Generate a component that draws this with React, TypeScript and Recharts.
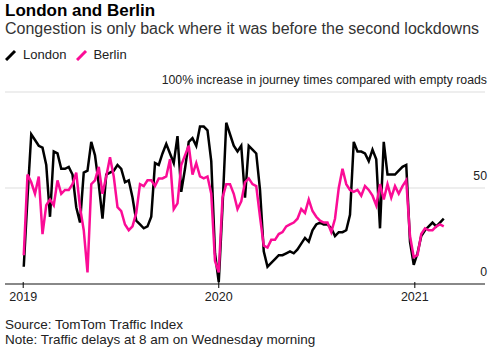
import { LineChart, Line, XAxis, YAxis, CartesianGrid, ReferenceLine } from "recharts";

// weekly readings, Wednesday 8am, starting 2 Jan 2019
const firstWeek = Date.UTC(2019, 0, 2);
const DAY = 86400000;

const london = [
  9, 45, 78, 75, 72, 71, 62, 35, 69, 68, 60, 60, 61, 57, 40, 32, 58, 59, 74, 67,
  52, 34, 57, 58, 59, 62, 60, 53, 54, 45, 33, 31, 29, 30, 35, 63, 62, 68, 73, 68,
  63, 77, 48, 60, 74, 76, 72, 82, 82, 80, 64, 16, 1, 40, 84, 78, 72, 69, 72, 45,
  72, 70, 68, 49, 17, 9, 11, 13, 15, 15, 16, 17, 16, 18, 21, 24, 22, 28, 31, 32,
  31, 31, 29, 25, 27, 27, 28, 36, 74, 69, 69, 68, 64, 70, 65, 29, 74, 57, 57, 57,
  59, 61, 62, 22, 10, 16, 25, 28, 30, 32, 30, 32, 34,
];

const berlin = [
  15, 57, 53, 47, 56, 26, 41, 44, 41, 54, 47, 49, 49, 52, 58, 40, 28, 6, 52, 54,
  61, 47, 56, 66, 56, 40, 38, 31, 28, 30, 37, 52, 51, 54, 54, 51, 55, 55, 56, 65,
  39, 42, 62, 67, 72, 57, 63, 56, 55, 56, 47, 12, 6, 45, 52, 52, 47, 39, 43, 53,
  55, 52, 51, 35, 20, 19, 23, 23, 26, 27, 30, 31, 32, 34, 39, 37, 44, 38, 35, 33,
  32, 32, 27, 34, 50, 60, 52, 49, 48, 49, 46, 51, 49, 46, 41, 52, 44, 52, 45, 51,
  47, 51, 54, 25, 14, 15, 26, 29, 28, 28, 30, 31, 30,
];

const yearTicks = [Date.UTC(2019, 0, 1), Date.UTC(2020, 0, 1), Date.UTC(2021, 0, 1)];
const valueTicks = [0, 50, 100];
const topLabel = "100% increase in journey times compared with empty roads";

const data = london.map((v, i) => ({
  date: firstWeek + i * 7 * DAY,
  london: v,
  berlin: berlin[i],
}));

const FONT = "'Liberation Sans', Arial, sans-serif";
const PINK = "#fb0c96";

function ValueTick({ y, payload }: any) {
  const label = payload.value === 100 ? topLabel : String(payload.value);
  return (
    <text x={487} y={y - 8} textAnchor="end" fontSize={12.3} fill="#222" fontFamily={FONT}>
      {label}
    </text>
  );
}

function YearTick({ x, y, payload }: any) {
  return (
    <g>
      <line x1={x} y1={y - 8} x2={x} y2={y - 2} stroke="#000" strokeWidth={1} />
      <text x={x} y={y + 11} textAnchor="middle" fontSize={12.5} fill="#222" fontFamily={FONT}>
        {new Date(payload.value).getUTCFullYear()}
      </text>
    </g>
  );
}

export default function App() {
  return (
    <div
      style={{
        position: "absolute",
        left: 0,
        top: 0,
        width: 497,
        height: 352,
        background: "#fff",
        fontFamily: FONT,
        color: "#222",
      }}
    >
      <div style={{ position: "absolute", left: 5, top: 1, fontSize: 17, fontWeight: 700, color: "#000" }}>
        London and Berlin
      </div>
      <div style={{ position: "absolute", left: 5, top: 20, fontSize: 16, color: "#333" }}>
        Congestion is only back where it was before the second lockdowns
      </div>
      <div style={{ position: "absolute", left: 5, top: 47, fontSize: 13, display: "flex", alignItems: "center" }}>
        <svg width={12} height={12} style={{ marginRight: 6 }}>
          <line x1={1} y1={11} x2={10} y2={2} stroke="#000" strokeWidth={3} />
        </svg>
        <span style={{ marginRight: 10 }}>London</span>
        <svg width={12} height={12} style={{ marginRight: 5 }}>
          <line x1={1} y1={11} x2={10} y2={2} stroke={PINK} strokeWidth={3} />
        </svg>
        <span>Berlin</span>
      </div>

      <div style={{ position: "absolute", left: 0, top: 0 }}>
        <LineChart
          width={497}
          height={320}
          data={data}
          margin={{ top: 92, right: 11, bottom: 0, left: 5 }}
        >
          <CartesianGrid vertical={false} stroke="#ddd" strokeWidth={1} />
          <XAxis
            dataKey="date"
            type="number"
            scale="time"
            domain={[Date.UTC(2018, 10, 28), Date.UTC(2021, 4, 12)]}
            ticks={yearTicks}
            interval={0}
            tick={<YearTick />}
            tickLine={false}
            axisLine={false}
            height={36}
            tickMargin={0}
          />
          <YAxis
            orientation="right"
            domain={[0, 100]}
            ticks={valueTicks}
            interval={0}
            tick={<ValueTick />}
            axisLine={false}
            tickLine={false}
            width={1}
          />
          <ReferenceLine y={0} stroke="#888" strokeWidth={2} />
          <Line
            dataKey="london"
            stroke="#000"
            strokeWidth={2.5}
            dot={false}
            isAnimationActive={false}
          />
          <Line
            dataKey="berlin"
            stroke={PINK}
            strokeWidth={2.5}
            dot={false}
            isAnimationActive={false}
          />
        </LineChart>
      </div>

      <div style={{ position: "absolute", left: 5, top: 317, fontSize: 13.5, lineHeight: "15px", color: "#222" }}>
        Source: TomTom Traffic Index
        <br />
        Note: Traffic delays at 8 am on Wednesday morning
      </div>
    </div>
  );
}
